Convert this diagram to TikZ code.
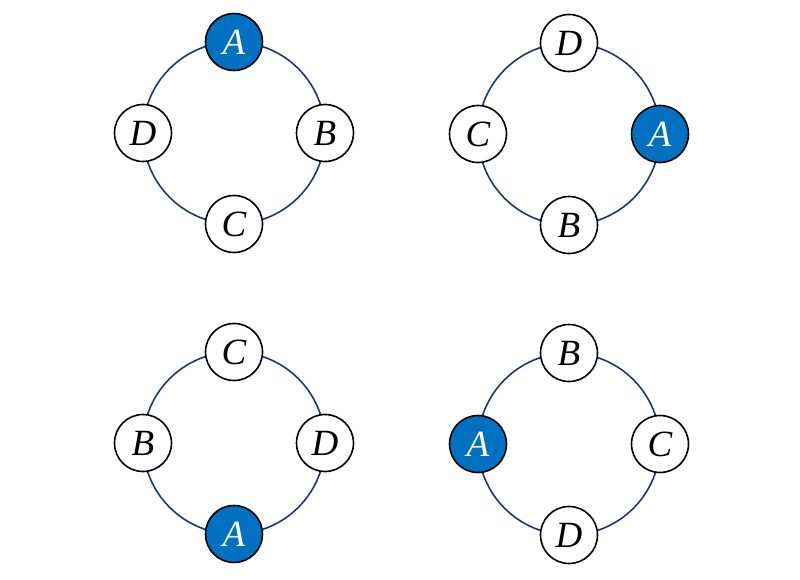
\documentclass[tikz,border=0pt]{standalone}
\usepackage{fontspec}
\setmainfont{Liberation Serif}
\usepackage{tikz}
\usetikzlibrary{positioning}

\definecolor{seatblue}{HTML}{0070C0}
\definecolor{ringnavy}{HTML}{1F3864}

\begin{document}
\begin{tikzpicture}[x=1pt, y=-1pt, font=\fontsize{37}{40}\selectfont\itshape]
    \tikzstyle{seat} = [circle, draw, line width=1.6pt, fill=white, minimum size=57pt, inner sep=0pt]
    \tikzstyle{hot} = [seat, fill=seatblue, text=white]
    \tikzstyle{ring} = [draw=ringnavy, line width=1.6pt]
    \useasboundingbox (0,0) rectangle (800,580);

% top left
\coordinate (c1) at (234,133);
\draw[ring] (c1) circle [radius=91];
\node[hot]  (a1) at (234,42)  {A};
\node[seat] (b1) at (325,133) {B};
\node[seat] (c1n) at (234,224) {C};
\node[seat] (d1) at (143,133) {D};

% top right
\coordinate (c2) at (569,134);
\draw[ring] (c2) circle [radius=91];
\node[seat] (d2) at (569,43)  {D};
\node[hot]  (a2) at (660,134) {A};
\node[seat] (b2) at (569,225) {B};
\node[seat] (c2n) at (478,134) {C};

% bottom left
\coordinate (c3) at (234,443);
\draw[ring] (c3) circle [radius=91];
\node[seat] (c3n) at (234,352) {C};
\node[seat] (d3) at (325,443) {D};
\node[hot]  (a3) at (234,534) {A};
\node[seat] (b3) at (143,443) {B};

% bottom right
\coordinate (c4) at (569,444);
\draw[ring] (c4) circle [radius=91];
\node[seat] (b4) at (569,353) {B};
\node[seat] (c4n) at (660,444) {C};
\node[seat] (d4) at (569,535) {D};
\node[hot]  (a4) at (478,444) {A};
\end{tikzpicture}
\end{document}
